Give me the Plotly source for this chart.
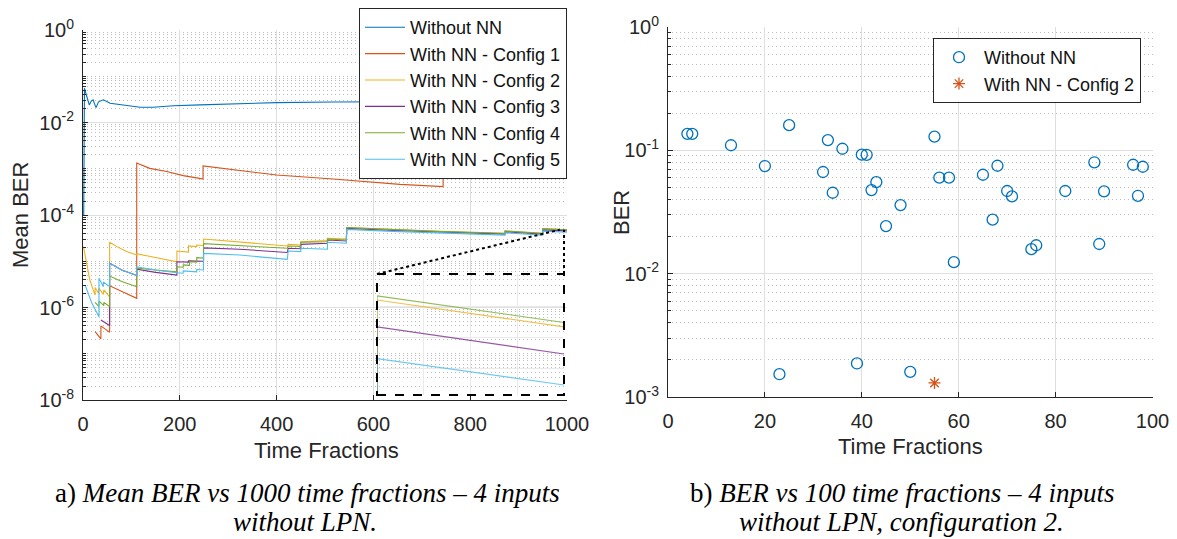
import math
import plotly.graph_objects as go

# ---------------- data: left chart (mean BER vs 1000 time fractions) ----------------
blue_x = [1.5, 2, 3, 8, 13, 17, 21, 24, 27, 32, 42, 56, 70, 90, 118, 145, 187, 242, 311, 400, 517, 650, 800, 1000]
blue_y = [1.0e-4, 4.5e-2, 5.5e-2, 3.6e-2, 2.4e-2, 2.9e-2, 3.1e-2, 2.5e-2, 2.1e-2, 2.8e-2, 3.1e-2, 2.6e-2,
          2.5e-2, 2.3e-2, 2.13e-2, 2.13e-2, 2.3e-2, 2.4e-2, 2.5e-2, 2.69e-2, 2.77e-2, 2.8e-2, 2.85e-2, 2.9e-2]

c1_x = [25, 37, 37, 55, 55, 80, 111, 111, 138, 173, 207, 241, 248, 248, 311, 400, 517, 655, 744, 744, 758, 758, 850, 1000]
c1_y = [3.0e-7, 2.1e-7, 4.0e-7, 2.9e-7, 2.95e-6, 2.24e-6, 1.58e-6, 1.33e-3, 1.02e-3, 8.7e-4, 7.1e-4, 6.2e-4,
        6.0e-4, 1.15e-3, 9.4e-4, 7.3e-4, 6.0e-4, 4.6e-4, 4.1e-4, 8.2e-4, 8.2e-4, 1.16e-3, 1.05e-3, 9.1e-4]

c2_x = [1, 8, 14, 21, 25, 25, 32, 33, 42, 43, 55, 55, 70, 90, 111, 111, 150, 194, 194, 218, 218, 235, 235,
        249, 249, 324, 422, 424, 450, 450, 505, 505, 544, 545, 640, 737, 872, 872, 950, 950, 1000]
c2_y = [2.07e-5, 8.32e-6, 3.94e-6, 2.40e-6, 1.86e-6, 2.69e-6, 2.04e-6, 2.63e-6, 1.91e-6, 2.40e-6, 1.70e-6,
        2.57e-5, 2.07e-5, 1.62e-5, 1.37e-5, 1.45e-5, 1.22e-5, 9.77e-6, 1.66e-5, 1.58e-5, 2.14e-5, 2.07e-5,
        2.24e-5, 2.19e-5, 3.02e-5, 2.57e-5, 2.14e-5, 2.32e-5, 2.24e-5, 2.63e-5, 2.79e-5, 3.13e-5, 3.02e-5,
        5.32e-5, 4.79e-5, 4.37e-5, 3.98e-5, 4.47e-5, 3.98e-5, 5.02e-5, 4.77e-5]

c3_x = [37, 55, 55, 80, 111, 111, 150, 194, 194, 218, 218, 249, 249, 324, 422, 424, 450, 450, 505, 505,
        544, 545, 640, 737, 872, 872, 950, 950, 1000]
c3_y = [5.37e-7, 4.07e-7, 9.12e-6, 6.46e-6, 4.90e-6, 6.76e-6, 5.75e-6, 5.01e-6, 9.77e-6, 9.55e-6, 1.02e-5,
        1.00e-5, 1.95e-5, 1.82e-5, 1.55e-5, 1.91e-5, 1.86e-5, 2.32e-5, 2.45e-5, 2.88e-5, 2.75e-5, 5.13e-5,
        4.62e-5, 4.22e-5, 3.85e-5, 4.32e-5, 3.85e-5, 4.77e-5, 4.53e-5]

c4_x = [25, 33, 33, 43, 43, 55, 55, 80, 111, 111, 150, 194, 194, 207, 207, 220, 220, 235, 235, 249, 249,
        324, 422, 424, 450, 450, 505, 505, 544, 545, 640, 737, 872, 872, 950, 950, 1000]
c4_y = [1.29e-6, 1.05e-6, 1.38e-6, 1.10e-6, 1.29e-6, 1.05e-6, 4.79e-6, 3.63e-6, 2.82e-6, 7.08e-6, 6.46e-6,
        5.89e-6, 7.59e-6, 7.41e-6, 8.32e-6, 8.13e-6, 9.77e-6, 9.55e-6, 1.20e-5, 1.17e-5, 2.40e-5, 2.14e-5,
        1.91e-5, 2.14e-5, 2.09e-5, 2.57e-5, 2.63e-5, 3.02e-5, 2.88e-5, 5.37e-5, 4.84e-5, 4.42e-5, 4.03e-5,
        4.52e-5, 4.03e-5, 5.06e-5, 4.81e-5]

c5_x = [5, 18, 33, 33, 42, 42, 55, 55, 80, 111, 111, 150, 194, 207, 207, 235, 235, 249, 249, 324, 422,
        424, 450, 450, 505, 505, 544, 545, 640, 737, 872, 872, 950, 950, 1000]
c5_y = [2.95e-6, 1.26e-6, 6.31e-7, 4.27e-6, 2.82e-6, 3.55e-6, 2.82e-6, 9.12e-6, 6.46e-6, 4.90e-6, 7.59e-6,
        6.46e-6, 5.62e-6, 5.50e-6, 6.17e-6, 5.89e-6, 6.61e-6, 6.46e-6, 1.48e-5, 1.36e-5, 1.10e-5, 1.66e-5,
        1.62e-5, 1.91e-5, 1.82e-5, 2.57e-5, 2.45e-5, 4.90e-5, 4.42e-5, 4.03e-5, 3.67e-5, 4.12e-5, 3.67e-5,
        4.49e-5, 4.27e-5]

left_names = ["Without NN", "With NN - Config 1", "With NN - Config 2", "With NN - Config 3",
              "With NN - Config 4", "With NN - Config 5"]

# ---------------- data: right chart (BER vs 100 time fractions) ----------------
nn_x = [4, 5, 13, 20, 23, 25, 32, 33, 34, 36, 39, 40, 41, 42, 43, 45, 48, 50, 55, 56, 58, 59,
        65, 67, 68, 70, 71, 75, 76, 82, 88, 89, 90, 96, 97, 98]
nn_y = [0.136, 0.136, 0.110, 0.0746, 0.00153, 0.160, 0.0667, 0.121, 0.0453, 0.103, 0.00187, 0.0922,
        0.0920, 0.0476, 0.0553, 0.0243, 0.0360, 0.00160, 0.129, 0.0600, 0.0600, 0.0124,
        0.0634, 0.0274, 0.0750, 0.0468, 0.0423, 0.0158, 0.0170, 0.0468, 0.0800, 0.0174, 0.0465,
        0.0764, 0.0428, 0.0736]
cfg2_x = [55]
cfg2_y = [0.0013]

# ---------------- styling ----------------
W, H = 1177, 539
colors = ["#0072BD", "#D95319", "#EDB120", "#7E2F8E", "#77AC30", "#4DBEEE"]
AX = "#262626"
GRID = "#DFDFDF"
MINOR = "#BDBDBD"
SANS = "Liberation Sans, Arial, sans-serif"
SERIF = "Liberation Serif, Times New Roman, serif"


def px(x):
    return x / W


def py(y):
    return 1 - y / H


# axis domains (pixels of the picture)
L_X = [px(83), px(567)]
L_Y = [py(400), py(30)]
R_X = [px(668), px(1152.5)]
R_Y = [py(397), py(27)]
I_X = [px(377), px(564)]
I_Y = [py(395), py(274)]

fig = go.Figure()

left_series = [(blue_x, blue_y), (c1_x, c1_y), (c2_x, c2_y), (c3_x, c3_y), (c4_x, c4_y), (c5_x, c5_y)]
for (xs, ys), name, col in zip(left_series, left_names, colors):
    fig.add_trace(go.Scatter(x=xs, y=ys, mode="lines", name=name,
                             line=dict(color=col, width=1.1),
                             xaxis="x", yaxis="y", legend="legend"))

# inset (zoom of the end of configs 2-5)
for (xs, ys), col in zip(left_series[2:], colors[2:]):
    fig.add_trace(go.Scatter(x=xs, y=ys, mode="lines", showlegend=False,
                             line=dict(color=col, width=1.1), opacity=0.8,
                             xaxis="x3", yaxis="y3"))

fig.add_trace(go.Scatter(x=nn_x, y=nn_y, mode="markers", name="Without NN",
                         marker=dict(symbol="circle-open", size=11, color=colors[0],
                                     line=dict(width=1.3, color=colors[0])),
                         xaxis="x2", yaxis="y2", legend="legend2"))
fig.add_trace(go.Scatter(x=cfg2_x, y=cfg2_y, mode="markers", name="With NN - Config 2",
                         marker=dict(symbol="asterisk-open", size=10, color=colors[1],
                                     line=dict(width=1.3, color=colors[1])),
                         xaxis="x2", yaxis="y2", legend="legend2"))


def sup_ticks(exps):
    return [10.0 ** e for e in exps], ["10<sup>%d</sup>" % e for e in exps]


def minor_vals(e0, e1, include_decades=()):
    vals = []
    for e in range(e0, e1):
        for m in range(2, 10):
            vals.append(m * 10.0 ** e)
    for e in include_decades:
        vals.append(10.0 ** e)
    return vals


tick_font = dict(family=SANS, size=20, color=AX)

lv, lt = sup_ticks([-8, -6, -4, -2, 0])
rv, rt = sup_ticks([-3, -2, -1, 0])

common_x = dict(showgrid=True, gridcolor=GRID, gridwidth=1, zeroline=False, showline=True,
                linecolor=AX, linewidth=1, ticks="inside", ticklen=5, tickcolor=AX,
                tickfont=tick_font, ticklabelstandoff=6, automargin=False)
common_y = dict(showgrid=True, gridcolor=GRID, gridwidth=1, zeroline=False, showline=True,
                linecolor=AX, linewidth=1, ticks="inside", ticklen=5, tickcolor=AX,
                tickfont=tick_font, type="log", ticklabelstandoff=4, automargin=False)
minor_style = dict(showgrid=True, gridcolor=MINOR, griddash="1px,3px", gridwidth=1,
                   ticks="inside", ticklen=3, tickcolor=AX)

fig.update_layout(
    width=W, height=H,
    margin=dict(l=0, r=0, t=0, b=0, autoexpand=False),
    paper_bgcolor="white", plot_bgcolor="rgba(0,0,0,0)",
    font=dict(family=SANS, color=AX),
    xaxis=dict(domain=L_X, anchor="y", range=[0, 1000], tickvals=[0, 200, 400, 600, 800, 1000], **common_x),
    yaxis=dict(domain=L_Y, anchor="x", range=[-8, 0], tickvals=lv, ticktext=lt,
               minor=dict(tickvals=minor_vals(-8, 0, [-7, -5, -3, -1]), **minor_style),
               **common_y),
    xaxis2=dict(domain=R_X, anchor="y2", range=[0, 100], tickvals=[0, 20, 40, 60, 80, 100], **common_x),
    yaxis2=dict(domain=R_Y, anchor="x2", range=[-3, 0], tickvals=rv, ticktext=rt,
                minor=dict(tickvals=minor_vals(-3, 0), **minor_style),
                **common_y),
    xaxis3=dict(domain=I_X, anchor="y3", range=[950, 1000], showticklabels=False, showline=False,
                ticks="", zeroline=False, showgrid=True, gridcolor="#EAEAEA", automargin=False,
                tickvals=[962.5, 975, 987.5]),
    yaxis3=dict(domain=I_Y, anchor="x3", type="log", range=[-4.3778, -4.2778], showticklabels=False,
                showline=False, ticks="", zeroline=False, showgrid=True, gridcolor="#EAEAEA", automargin=False,
                tickvals=[4.955e-5, 4.677e-5, 4.406e-5]),
    legend=dict(x=px(567), xanchor="right", y=py(8), yanchor="top", bgcolor="white",
                bordercolor=AX, borderwidth=1, font=dict(family=SANS, size=18, color="#111111"),
                tracegroupgap=0, itemwidth=40),
    legend2=dict(x=px(1141), xanchor="right", y=py(38), yanchor="top", bgcolor="white",
                 bordercolor=AX, borderwidth=1, font=dict(family=SANS, size=18, color="#111111"),
                 itemwidth=40),
    showlegend=True,
)


# map a point of the left chart to paper coordinates (through its axis range)
def left_paper(x, y):
    fx = L_X[0] + (x - 0) / 1000.0 * (L_X[1] - L_X[0])
    fy = L_Y[0] + (math.log10(y) + 8) / 8.0 * (L_Y[1] - L_Y[0])
    return fx, fy


tx, ty = left_paper(985, 4.8e-5)
shapes = [
    dict(type="rect", xref="paper", yref="paper", x0=I_X[0], x1=I_X[1], y0=I_Y[0], y1=I_Y[1],
         line=dict(color="black", width=2, dash="dash"), layer="above"),
    dict(type="line", xref="paper", yref="paper", x0=I_X[0], y0=I_Y[1], x1=tx, y1=ty,
         line=dict(color="black", width=2, dash="dot")),
    dict(type="line", xref="paper", yref="paper", x0=I_X[1], y0=I_Y[1], x1=I_X[1], y1=ty,
         line=dict(color="black", width=2, dash="dot")),
]
fig.update_layout(shapes=shapes)

title_font = dict(family=SANS, size=22, color=AX)
cap_font = dict(family=SERIF, size=27, color="black")
annotations = [
    dict(text="Mean BER", x=px(21), y=py(215), textangle=-90, font=title_font),
    dict(text="Time Fractions", x=px(326), y=py(450), font=title_font),
    dict(text="BER", x=px(621), y=py(213), textangle=-90, font=title_font),
    dict(text="Time Fractions", x=px(910), y=py(446), font=title_font),
    dict(text="a) <i>Mean BER vs 1000 time fractions – 4 inputs</i>", x=px(307), y=py(493), font=cap_font),
    dict(text="<i>without LPN.</i>", x=px(305), y=py(522), font=cap_font),
    dict(text="b) <i>BER vs 100 time fractions – 4 inputs</i>", x=px(902), y=py(493), font=cap_font),
    dict(text="<i>without LPN, configuration 2.</i>", x=px(901), y=py(522), font=cap_font),
]
for a in annotations:
    a.update(xref="paper", yref="paper", showarrow=False, xanchor="center", yanchor="middle")
fig.update_layout(annotations=annotations)

fig.write_html("out.html")
